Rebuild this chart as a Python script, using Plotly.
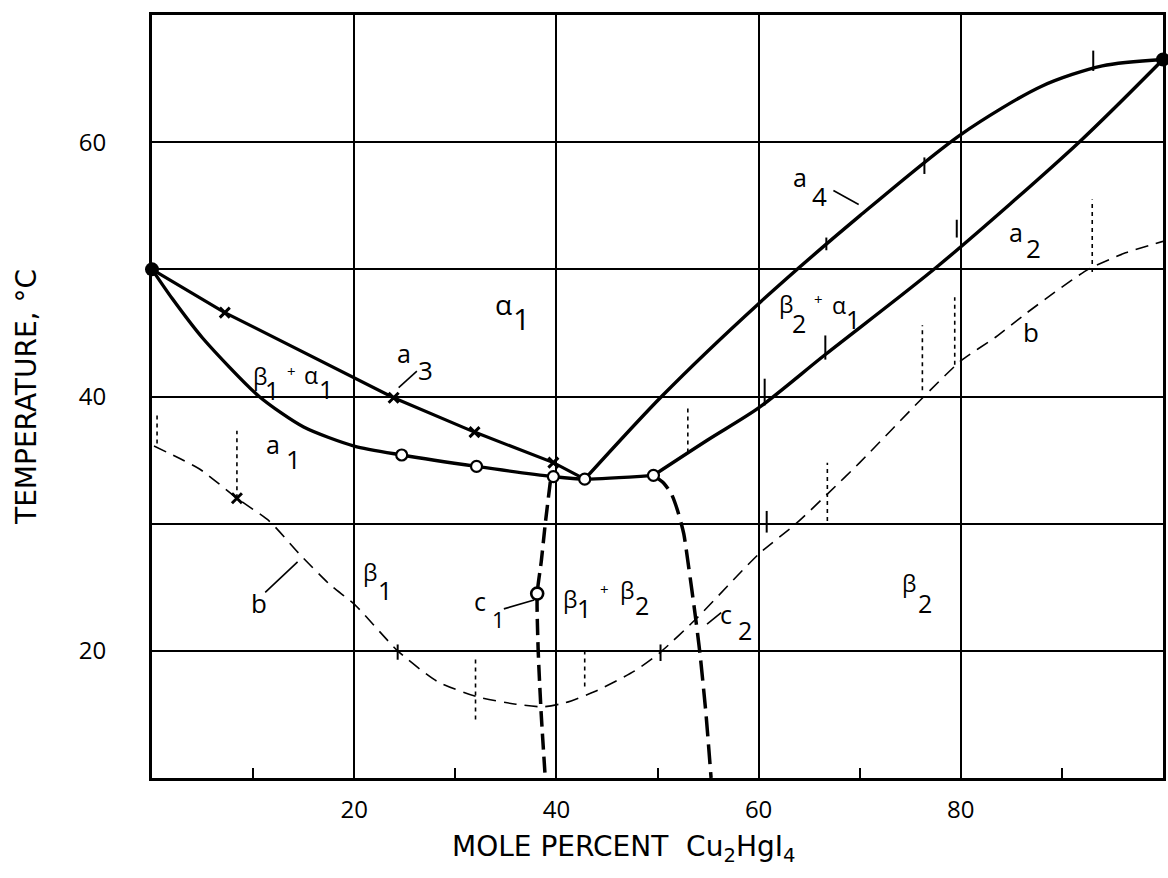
import plotly.graph_objects as go

# ---- phase boundaries, mole percent Cu2HgI4 vs temperature (deg C) ----
# a1 plus the three-phase level (solid)
a1_x = [0, 2.0, 5.0, 10.6, 15.0, 20.0, 24.7, 32.1, 39.7, 42.8, 49.6]
a1_y = [50, 47.7, 44.6, 40.0, 37.6, 36.1, 35.4, 34.5, 33.7, 33.5, 33.8]

# a3 (solid, x points)
a3_x = [0, 7.2, 23.9, 31.9, 39.7, 42.8]
a3_y = [50, 46.6, 39.9, 37.2, 34.8, 33.5]

# a4 (solid)
a4_x = [42.8, 50.4, 60.0, 70.0, 80.0, 88.0, 94.0, 100.0]
a4_y = [33.5, 40.0, 47.3, 54.2, 60.6, 64.4, 66.0, 66.5]

# a2 (solid)
a2_x = [49.6, 55.0, 60.0, 66.6, 77.8, 91.7, 100.0]
a2_y = [33.8, 36.6, 39.1, 43.3, 50.3, 60.0, 66.5]

# b (light dashed)
b_x = [0.2, 4.7, 8.4, 11.6, 14.6, 17.6, 20.1, 24.3, 28.2, 32.1, 36.0, 38.7, 40.8, 43.8,
       47.7, 50.3, 53.8, 60.0, 63.7, 66.9, 70.0, 76.6, 80.0, 83.5, 86.4, 89.3, 92.6, 96.3, 100.0]
b_y = [36.1, 34.3, 32.0, 30.2, 27.6, 25.2, 23.6, 20.0, 17.6, 16.4, 15.8, 15.6, 15.9, 16.8,
       18.4, 19.9, 22.5, 27.6, 30.0, 32.4, 34.8, 40.2, 42.8, 44.7, 46.5, 48.2, 50.0, 51.3, 52.2]

# c1, c2 (heavy dashed)
c1_x = [39.4, 38.9, 38.5, 38.1, 38.2, 38.5, 38.9]
c1_y = [33.3, 30.0, 27.0, 24.5, 20.0, 15.0, 10.0]
c2_x = [49.6, 50.6, 51.4, 52.0, 52.6, 53.1, 53.7, 54.2, 54.8, 55.3]
c2_y = [33.8, 33.2, 32.3, 31.0, 29.2, 26.5, 23.0, 19.8, 15.0, 10.0]

# measured points
open_x = [24.7, 32.1, 39.7, 42.8, 49.6]
open_y = [35.4, 34.5, 33.7, 33.5, 33.8]
cross_x = [7.2, 23.9, 31.9, 39.7, 8.4]
cross_y = [46.6, 39.9, 37.2, 34.8, 32.0]
dot_x = [0, 100]
dot_y = [50, 66.5]
c1_pt_x = [38.1]
c1_pt_y = [24.5]

# short solid check marks (x, low, high)
tick_x = [60.6, 66.6, 79.6, 66.7, 76.4, 93.1, 24.3, 50.3, 60.8]
tick_lo = [39.3, 42.9, 52.5, 51.5, 57.5, 65.6, 19.3, 19.2, 29.3]
tick_hi = [41.4, 44.8, 53.9, 52.5, 58.8, 67.2, 20.5, 20.5, 31.0]

# short dotted verticals (x, low, high)
dv_x = [0.5, 8.4, 32.0, 42.8, 53.0, 66.8, 76.2, 79.4, 93.0]
dv_lo = [36.3, 32.0, 14.6, 17.2, 35.6, 30.2, 40.5, 42.5, 49.8]
dv_hi = [38.7, 37.3, 19.5, 20.0, 39.2, 34.8, 45.6, 47.8, 55.5]

x_ticks = [20, 40, 60, 80]
x_minor = [10, 30, 50, 70, 90]
y_grid = [20, 30, 40, 50, 60]
y_labels = ["20", "", "40", "", "60"]

# region / curve labels: (text, x, y, font size)
labels = [
    ("α", 34.8, 47.3, 28), ("1", 36.5, 46.1, 30),
    ("β", 10.7, 41.6, 23), ("1", 11.9, 40.5, 25), ("+", 13.8, 42.0, 15),
    ("α", 15.7, 41.7, 23), ("1", 17.2, 40.6, 25),
    ("a", 12.0, 36.3, 25), ("1", 14.0, 35.1, 26),
    ("a", 24.9, 43.4, 25), ("3", 27.1, 42.1, 26),
    ("a", 64.1, 57.3, 25), ("4", 66.0, 55.8, 26),
    ("a", 85.5, 52.9, 25), ("2", 87.2, 51.7, 26),
    ("β", 62.7, 47.3, 23), ("2", 64.0, 45.8, 25), ("+", 65.9, 47.7, 15),
    ("α", 68.0, 47.2, 23), ("1", 69.3, 46.1, 25),
    ("b", 86.9, 45.1, 26), ("b", 10.6, 23.8, 26),
    ("β", 21.6, 26.2, 23), ("1", 23.0, 24.8, 25),
    ("β", 41.3, 24.1, 23), ("1", 42.7, 23.4, 25), ("+", 44.8, 24.9, 15),
    ("β", 47.0, 24.8, 23), ("2", 48.5, 23.6, 25),
    ("β", 74.9, 25.3, 23), ("2", 76.5, 23.8, 25),
    ("c", 32.4, 23.9, 25), ("1", 34.3, 22.5, 22),
    ("c", 56.8, 22.9, 25), ("2", 58.7, 21.6, 25),
]

FONT = "Open Sans"
TITLE_FONT = "DejaVu Sans"
INK = "black"

fig = go.Figure()


def seg_lists(xs, lo, hi):
    sx, sy = [], []
    for x, a, b in zip(xs, lo, hi):
        sx += [x, x, None]
        sy += [a, b, None]
    return sx, sy


sx, sy = seg_lists(dv_x, dv_lo, dv_hi)
fig.add_trace(go.Scatter(x=sx, y=sy, mode="lines",
                         line=dict(color=INK, width=1.6, dash="4px,4px")))
sx, sy = seg_lists(tick_x, tick_lo, tick_hi)
fig.add_trace(go.Scatter(x=sx, y=sy, mode="lines", line=dict(color=INK, width=2)))

fig.add_trace(go.Scatter(x=b_x, y=b_y, mode="lines",
                         line=dict(color=INK, width=1.6, dash="13px,8px", shape="spline", smoothing=0.6)))
fig.add_trace(go.Scatter(x=c1_x, y=c1_y, mode="lines",
                         line=dict(color=INK, width=3.5, dash="16px,7px", shape="spline", smoothing=0.6)))
fig.add_trace(go.Scatter(x=c2_x, y=c2_y, mode="lines",
                         line=dict(color=INK, width=3.5, dash="20px,8px", shape="spline", smoothing=0.6)))

fig.add_trace(go.Scatter(x=a3_x, y=a3_y, mode="lines", line=dict(color=INK, width=3.2)))
fig.add_trace(go.Scatter(x=a1_x, y=a1_y, mode="lines",
                         line=dict(color=INK, width=3.4, shape="spline", smoothing=0.7)))
fig.add_trace(go.Scatter(x=a4_x, y=a4_y, mode="lines",
                         line=dict(color=INK, width=3.4, shape="spline", smoothing=0.8)))
fig.add_trace(go.Scatter(x=a2_x, y=a2_y, mode="lines",
                         line=dict(color=INK, width=3.4, shape="spline", smoothing=0.8)))

fig.add_trace(go.Scatter(x=cross_x, y=cross_y, mode="markers",
                         marker=dict(symbol="x-thin", size=10, line=dict(color=INK, width=3))))
fig.add_trace(go.Scatter(x=open_x, y=open_y, mode="markers",
                         marker=dict(symbol="circle", size=11, color="white", line=dict(color=INK, width=2.2))))
fig.add_trace(go.Scatter(x=c1_pt_x, y=c1_pt_y, mode="markers",
                         marker=dict(symbol="circle", size=12, color="white", line=dict(color=INK, width=2.6))))
fig.add_trace(go.Scatter(x=dot_x, y=dot_y, mode="markers", cliponaxis=False,
                         marker=dict(symbol="circle", size=14, color=INK)))

# label leader lines
lead_x = [11.2, 14.4, None, 24.4, 26.2, None, 67.4, 69.9, None, 34.8, 37.8, None, 54.9, 56.3]
lead_y = [24.6, 27.0, None, 40.7, 42.0, None, 56.2, 55.1, None, 23.3, 24.0, None, 22.1, 23.0]
fig.add_trace(go.Scatter(x=lead_x, y=lead_y, mode="lines", line=dict(color=INK, width=1.6)))

for t, x, y, s in labels:
    fig.add_annotation(x=x, y=y, text=t, showarrow=False,
                       font=dict(family=FONT, size=s, color=INK))

# axis titles
fig.add_annotation(xref="paper", yref="paper", x=0.466, y=0, yshift=-70,
                   xanchor="center", yanchor="middle", showarrow=False,
                   text="MOLE PERCENT  Cu<sub>2</sub>HgI<sub>4</sub>",
                   font=dict(family=TITLE_FONT, size=28, color=INK))

fig.update_layout(
    width=1168, height=878,
    margin=dict(l=152, r=2, t=15, b=100),
    paper_bgcolor="white", plot_bgcolor="white",
    showlegend=False,
    font=dict(family=FONT, color=INK),
)
fig.update_xaxes(
    range=[0, 100], tickmode="array", tickvals=x_ticks, ticktext=[str(v) for v in x_ticks],
    showgrid=True, gridcolor=INK, gridwidth=2.2, zeroline=False,
    showline=True, linecolor=INK, linewidth=3, mirror=True,
    ticks="", tickfont=dict(family=FONT, size=24, color=INK), ticklabelstandoff=8,
    minor=dict(tickmode="array", tickvals=x_minor, ticks="inside", ticklen=10,
               tickwidth=2.2, tickcolor=INK, showgrid=False),
)
fig.update_yaxes(
    range=[10, 70], tickmode="array", tickvals=y_grid, ticktext=y_labels,
    showgrid=True, gridcolor=INK, gridwidth=2.2, zeroline=False,
    showline=True, linecolor=INK, linewidth=3, mirror=True,
    ticks="", tickfont=dict(family=FONT, size=24, color=INK), ticklabelstandoff=38,
    title=dict(text="TEMPERATURE, °C", font=dict(family=TITLE_FONT, size=28, color=INK), standoff=34),
)

fig.write_html("out.html")
